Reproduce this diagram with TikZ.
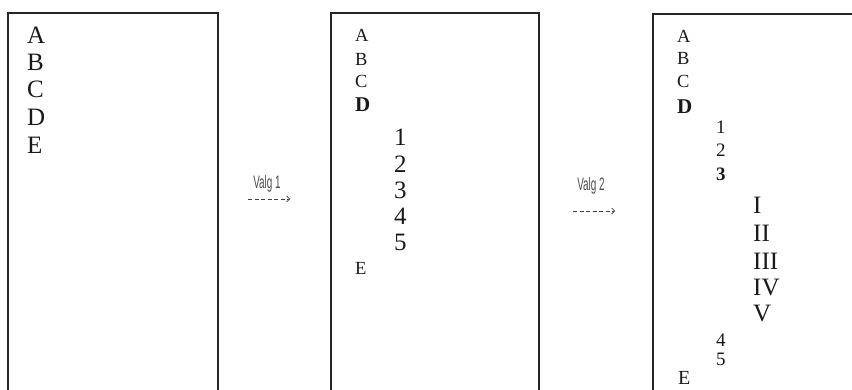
\documentclass[tikz,border=0pt]{standalone}
\usepackage{fontspec}
\setmainfont{Liberation Serif}
\newfontfamily\valgfont{Liberation Sans}
\usetikzlibrary{arrows.meta}
\tikzset{
  frame/.style={line width=1.2pt, draw=black!85},
  item/.style={anchor=west, inner sep=0pt, text=black!90},
  big/.style={item, font=\fontsize{25}{25}\selectfont},
  mid/.style={item, font=\fontsize{19}{19}\selectfont},
  small/.style={item, font=\fontsize{18.5}{18.5}\selectfont},
  bolditem/.style={item, font=\fontsize{21}{21}\selectfont\bfseries},
  smallbold/.style={item, font=\fontsize{19}{19}\selectfont\bfseries},
  valg/.style={inner sep=0pt, text=black!70, font=\valgfont\fontsize{18}{18}\selectfont},
  dasharrow/.style={draw=black!75, line width=0.6pt, dash pattern=on 4pt off 2.5pt,
    -{Straight Barb[length=3pt,width=6pt,line width=0.6pt]}}
}
\newcommand{\narrowtext}[1]{\scalebox{0.55}[1]{#1}}
\begin{document}
\begin{tikzpicture}[x=1pt,y=-1pt]
\useasboundingbox (0,0) rectangle (852,390);
% boxes
\draw[frame] (8,390) -- (8,13) -- (218,13) -- (218,390);
\draw[frame] (331,390) -- (331,13) -- (539,13) -- (539,390);
\draw[frame] (653,390) -- (653,14) -- (852,14);
% box 1
\node[big] (a1) at (27,35) {A};
\node[big] (b1) at (27,62) {B};
\node[big] (c1) at (27,89) {C};
\node[big] (d1) at (27,117) {D};
\node[big] (e1) at (27,145) {E};
% box 2
\node[small] (a2) at (355,35) {A};
\node[small] (b2) at (355,59) {B};
\node[small] (c2) at (355,81) {C};
\node[bolditem] (d2) at (355,105) {D};
\node[big] (n21) at (394,137) {1};
\node[big] (n22) at (394,164) {2};
\node[big] (n23) at (394,190) {3};
\node[big] (n24) at (394,216) {4};
\node[big] (n25) at (394,242) {5};
\node[small] (e2) at (355,268) {E};
% box 3
\node[small] (a3) at (677,36) {A};
\node[small] (b3) at (677,58) {B};
\node[small] (c3) at (677,81) {C};
\node[bolditem] (d3) at (677,107) {D};
\node[mid] (n31) at (716,127) {1};
\node[mid] (n32) at (716,150) {2};
\node[smallbold] (n33) at (716,174) {3};
\node[big] (r1) at (753,205) {I};
\node[big] (r2) at (753,233) {II};
\node[big] (r3) at (753,261) {III};
\node[big] (r4) at (753,288) {IV};
\node[big] (r5) at (753,314) {V};
\node[mid] (n34) at (716,340) {4};
\node[mid] (n35) at (716,359) {5};
\node[item, font=\fontsize{20}{20}\selectfont] (e3) at (678,378) {E};
% arrows
\node[valg] (v1) at (267,184) {\narrowtext{Valg 1}};
\coordinate (s1) at (248,199);
\coordinate (t1) at (290,199);
\draw[dasharrow] (s1) -- (t1);
\node[valg] (v2) at (591,186) {\narrowtext{Valg 2}};
\coordinate (s2) at (573,211);
\coordinate (t2) at (615,211);
\draw[dasharrow] (s2) -- (t2);
\end{tikzpicture}
\end{document}
